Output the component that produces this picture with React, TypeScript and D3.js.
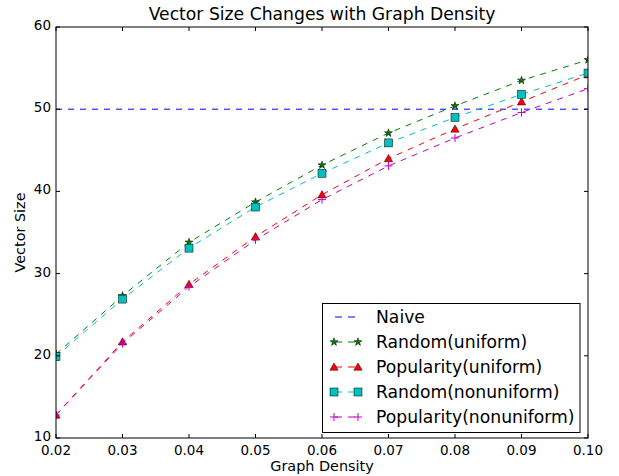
import React from 'react';
import * as d3 from 'd3';

const densities = [0.02, 0.03, 0.04, 0.05, 0.06, 0.07, 0.08, 0.09, 0.1];
const naive = [50, 50, 50, 50, 50, 50, 50, 50, 50];
const randomUniform = [20.2, 27.3, 33.8, 38.7, 43.2, 47.1, 50.4, 53.5, 56.0];
const popularityUniform = [12.8, 21.7, 28.7, 34.5, 39.6, 44.0, 47.6, 50.9, 54.2];
const randomNonuniform = [19.9, 26.9, 33.1, 38.1, 42.2, 45.9, 49.0, 51.8, 54.4];
const popularityNonuniform = [12.8, 21.5, 28.4, 34.1, 39.0, 43.1, 46.5, 49.6, 52.5];
const xTicks = [0.02, 0.03, 0.04, 0.05, 0.06, 0.07, 0.08, 0.09, 0.1];
const yTicks = [10, 20, 30, 40, 50, 60];

type Marker = 'none' | 'star' | 'triangle' | 'square' | 'plus';
const series: { name: string; values: number[]; color: string; marker: Marker }[] = [
  { name: 'Naive', values: naive, color: '#0000ff', marker: 'none' },
  { name: 'Random(uniform)', values: randomUniform, color: '#008000', marker: 'star' },
  { name: 'Popularity(uniform)', values: popularityUniform, color: '#ff0000', marker: 'triangle' },
  { name: 'Random(nonuniform)', values: randomNonuniform, color: '#00bfbf', marker: 'square' },
  { name: 'Popularity(nonuniform)', values: popularityNonuniform, color: '#bf00bf', marker: 'plus' },
];

const W = 619;
const H = 476;
const left = 56, right = 588, top = 27, bottom = 438;
const font = 'DejaVu Sans, sans-serif';

const starPath = d3.symbol(d3.symbolStar, 20)();
const triPath = d3.symbol(d3.symbolTriangle, 30)();

function MarkerShape({ kind, color, x, y }: { kind: Marker; color: string; x: number; y: number }) {
  const t = `translate(${x},${y})`;
  if (kind === 'star') return <path d={starPath || ''} transform={t} fill={color} stroke="#000" strokeWidth={0.5} />;
  if (kind === 'triangle') return <path d={triPath || ''} transform={`translate(${x},${y + 0.8})`} fill={color} stroke="#000" strokeWidth={0.5} />;
  if (kind === 'square') return <rect x={x - 4} y={y - 4} width={8} height={8} fill={color} stroke="#000" strokeWidth={0.5} />;
  if (kind === 'plus')
    return (
      <g transform={t} stroke={color} strokeWidth={1}>
        <line x1={-4} x2={4} y1={0} y2={0} />
        <line x1={0} x2={0} y1={-4} y2={4} />
      </g>
    );
  return null;
}

export default function App() {
  const x = d3.scaleLinear().domain([0.02, 0.1]).range([left, right]);
  const y = d3.scaleLinear().domain([10, 60]).range([bottom, top]);
  const line = d3.line<number>().x((_, i) => x(densities[i])).y((v) => y(v));

  const legX = 322.5, legY = 303.5, legW = 257.5, legH = 129;
  const rowY = (i: number) => legY + 13.5 + i * 25;

  return (
    <svg width={W} height={H} style={{ position: 'absolute', left: 0, top: 0 }} fontFamily={font}>
      <rect width={W} height={H} fill="#fff" />
      <defs>
        <clipPath id="plotClip">
          <rect x={left} y={top} width={right - left} height={bottom - top} />
        </clipPath>
      </defs>

      <text x={(left + right) / 2} y={20} textAnchor="middle" fontSize={17.2} fill="#000">
        Vector Size Changes with Graph Density
      </text>

      <g clipPath="url(#plotClip)">
        {series.map((s) => (
          <g key={s.name}>
            <path d={line(s.values) || ''} fill="none" stroke={s.color} strokeWidth={1} strokeDasharray="6,6" />
            {s.values.map((v, i) => (
              <MarkerShape key={i} kind={s.marker} color={s.color} x={x(densities[i])} y={y(v)} />
            ))}
          </g>
        ))}
      </g>

      {/* frame */}
      <rect x={left} y={top} width={right - left} height={bottom - top} fill="none" stroke="#000" strokeWidth={1} />

      {/* ticks */}
      {xTicks.map((t) => (
        <g key={t}>
          <line x1={x(t)} x2={x(t)} y1={bottom} y2={bottom - 4} stroke="#000" />
          <line x1={x(t)} x2={x(t)} y1={top} y2={top + 4} stroke="#000" />
          <text x={x(t)} y={455} textAnchor="middle" fontSize={13.5} fill="#000">
            {t.toFixed(2)}
          </text>
        </g>
      ))}
      {yTicks.map((t) => (
        <g key={t}>
          <line x1={left} x2={left + 4} y1={y(t)} y2={y(t)} stroke="#000" />
          <line x1={right} x2={right - 4} y1={y(t)} y2={y(t)} stroke="#000" />
          <text x={left - 5} y={y(t) + 3} textAnchor="end" fontSize={13.5} fill="#000">
            {t}
          </text>
        </g>
      ))}

      <text x={(left + right) / 2} y={471} textAnchor="middle" fontSize={14.4} fill="#000">
        Graph Density
      </text>
      <text transform={`translate(25,${(top + bottom) / 2}) rotate(-90)`} textAnchor="middle" fontSize={14.4} fill="#000">
        Vector Size
      </text>

      {/* legend */}
      <rect x={legX} y={legY} width={legW} height={legH} fill="#fff" stroke="#000" strokeWidth={1} />
      {series.map((s, i) => (
        <g key={s.name}>
          <line x1={335} x2={356} y1={rowY(i)} y2={rowY(i)} stroke={s.color} strokeDasharray="7,6" />
          <MarkerShape kind={s.marker} color={s.color} x={334} y={rowY(i)} />
          <MarkerShape kind={s.marker} color={s.color} x={358} y={rowY(i)} />
          <text x={376} y={rowY(i) + 6} fontSize={17.2} fill="#000">
            {s.name}
          </text>
        </g>
      ))}
    </svg>
  );
}
